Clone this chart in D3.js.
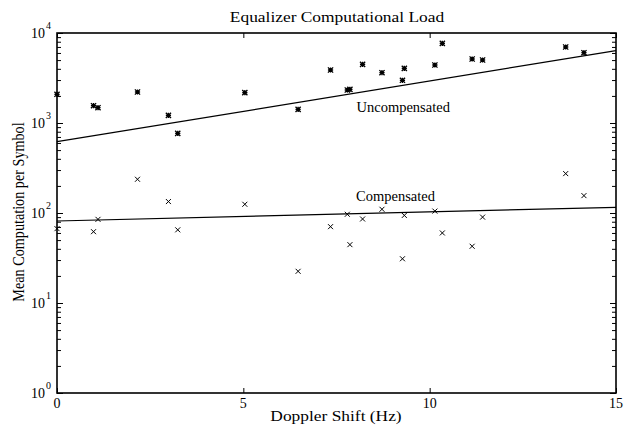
<!DOCTYPE html>
<html>
<head>
<meta charset="utf-8">
<script src="https://cdnjs.cloudflare.com/ajax/libs/d3/7.8.5/d3.min.js"></script>
<style>
  body { margin: 0; background: #fff; }
  text { font-family: "Liberation Serif", "Times New Roman", serif; fill: #000; }
</style>
</head>
<body>
<div id="chart"></div>
<script>
// doppler shift of each trial (Hz)
var doppler = [0, 0.98, 1.1, 2.16, 2.99, 3.24, 5.04, 6.47, 7.34, 7.79, 7.86, 8.2, 8.72, 9.27, 9.32, 10.14, 10.34, 11.14, 11.42, 13.65, 14.14];
// mean computation per symbol, no compensation
var uncompensated = [2085, 1556, 1479, 2210, 1217, 768, 2172, 1419, 3880, 2327, 2366, 4487, 3622, 2981, 4050, 4410, 7680, 5140, 5010, 6990, 6040];
// mean computation per symbol, with compensation
var compensated = [67, 62, 85, 237, 134, 65, 125, 22.5, 70.5, 96.8, 44.5, 85.8, 110, 31, 94, 105, 60, 42.7, 90, 274, 156];
// fitted trend lines, end points
var fitX = [0, 15];
var uncompFit = [620, 6370];
var compFit = [81.5, 115.6];
var xTicks = [0, 5, 10, 15];
var yDecades = [1, 10, 100, 1000, 10000];

var W = 626, H = 425;
var margin = {left: 57, top: 33, right: 10, bottom: 32};

var svg = d3.select("#chart").append("svg")
    .attr("width", W)
    .attr("height", H);

var x = d3.scaleLinear().domain([0, 15]).range([margin.left, W - margin.right]);
var y = d3.scaleLog().domain([1, 10000]).range([H - margin.bottom, margin.top]);

// sx stretches the glyphs sideways (titles in the original are wider)
function label(str, px, py, size, anchor, sx, rotate) {
  sx = sx || 1;
  var tf = "translate(" + px + "," + py + ")" +
    (rotate ? " rotate(-90) scale(1," + sx + ")" : " scale(" + sx + ",1)");
  return svg.append("text")
    .attr("transform", tf)
    .attr("text-anchor", anchor)
    .style("font-size", size + "px")
    .text(str);
}

// minor + major ticks, all pointing inward
var minors = y.ticks().filter(function (d) { return yDecades.indexOf(d) < 0; });

svg.append("g").attr("transform", "translate(" + margin.left + ",0)")
  .call(d3.axisLeft(y).tickValues(minors).tickSize(-4).tickFormat(""));
svg.append("g").attr("transform", "translate(" + margin.left + ",0)")
  .call(d3.axisLeft(y).tickValues(yDecades).tickSize(-6).tickFormat(""));
svg.append("g").attr("transform", "translate(" + (W - margin.right) + ",0)")
  .call(d3.axisRight(y).tickValues(minors).tickSize(-4).tickFormat(""));
svg.append("g").attr("transform", "translate(" + (W - margin.right) + ",0)")
  .call(d3.axisRight(y).tickValues(yDecades).tickSize(-6).tickFormat(""));
svg.append("g").attr("transform", "translate(0," + (H - margin.bottom) + ")")
  .call(d3.axisBottom(x).tickValues(xTicks).tickSize(-5).tickFormat(""));
svg.append("g").attr("transform", "translate(0," + margin.top + ")")
  .call(d3.axisTop(x).tickValues(xTicks).tickSize(-5).tickFormat(""));

svg.selectAll(".domain").remove();
svg.selectAll(".tick line").attr("stroke", "#000").attr("stroke-width", 1);

// frame
svg.append("rect")
  .attr("x", x(0)).attr("y", y(10000))
  .attr("width", x(15) - x(0)).attr("height", y(1) - y(10000))
  .attr("fill", "none").attr("stroke", "#000").attr("stroke-width", 1.6);

// tick labels
xTicks.forEach(function (d) {
  label(d, x(d), H - margin.bottom + 15, 14, "middle");
});
yDecades.forEach(function (d) {
  var yy = y(d);
  label("10", margin.left - 12, yy + 5, 14, "end");
  label(Math.round(Math.log10(d)), margin.left - 11, yy - 4, 10, "start");
});

// fit lines
var line = d3.line()
  .x(function (d) { return x(d[0]); })
  .y(function (d) { return y(d[1]); });

[uncompFit, compFit].forEach(function (f) {
  svg.append("path")
    .datum(fitX.map(function (v, i) { return [v, f[i]]; }))
    .attr("d", line)
    .attr("fill", "none")
    .attr("stroke", "#000")
    .attr("stroke-width", 1.2);
});

// markers
var s = 2.6;
svg.append("g").attr("class", "uncomp")
  .selectAll("path")
  .data(doppler.map(function (v, i) { return [v, uncompensated[i]]; }))
  .enter().append("path")
  .attr("d", function (d) {
    var cx = x(d[0]), cy = y(d[1]);
    return "M" + (cx - s) + "," + (cy - s) + "L" + (cx + s) + "," + (cy + s) +
      "M" + (cx - s) + "," + (cy + s) + "L" + (cx + s) + "," + (cy - s) +
      "M" + (cx - s) + "," + cy + "L" + (cx + s) + "," + cy +
      "M" + cx + "," + (cy - s) + "L" + cx + "," + (cy + s);
  })
  .attr("stroke", "#000")
  .attr("stroke-width", 1.3);

var s2 = 2.5;
svg.append("g").attr("class", "comp")
  .selectAll("path")
  .data(doppler.map(function (v, i) { return [v, compensated[i]]; }))
  .enter().append("path")
  .attr("d", function (d) {
    var cx = x(d[0]), cy = y(d[1]);
    return "M" + (cx - s2) + "," + (cy - s2) + "L" + (cx + s2) + "," + (cy + s2) +
      "M" + (cx - s2) + "," + (cy + s2) + "L" + (cx + s2) + "," + (cy - s2);
  })
  .attr("stroke", "#000")
  .attr("stroke-width", 1);

// annotations
label("Uncompensated", 356.5, 112, 14.5, "start");
label("Compensated", 356, 201, 14.5, "start");

// titles
label("Equalizer Computational Load", 337, 22, 14.5, "middle", 1.2);
label("Doppler Shift (Hz)", 336, 421, 14.5, "middle", 1.2);
label("Mean Computation per Symbol", 24, 212, 14.2, "middle", 1.2, true);
</script>
</body>
</html>
